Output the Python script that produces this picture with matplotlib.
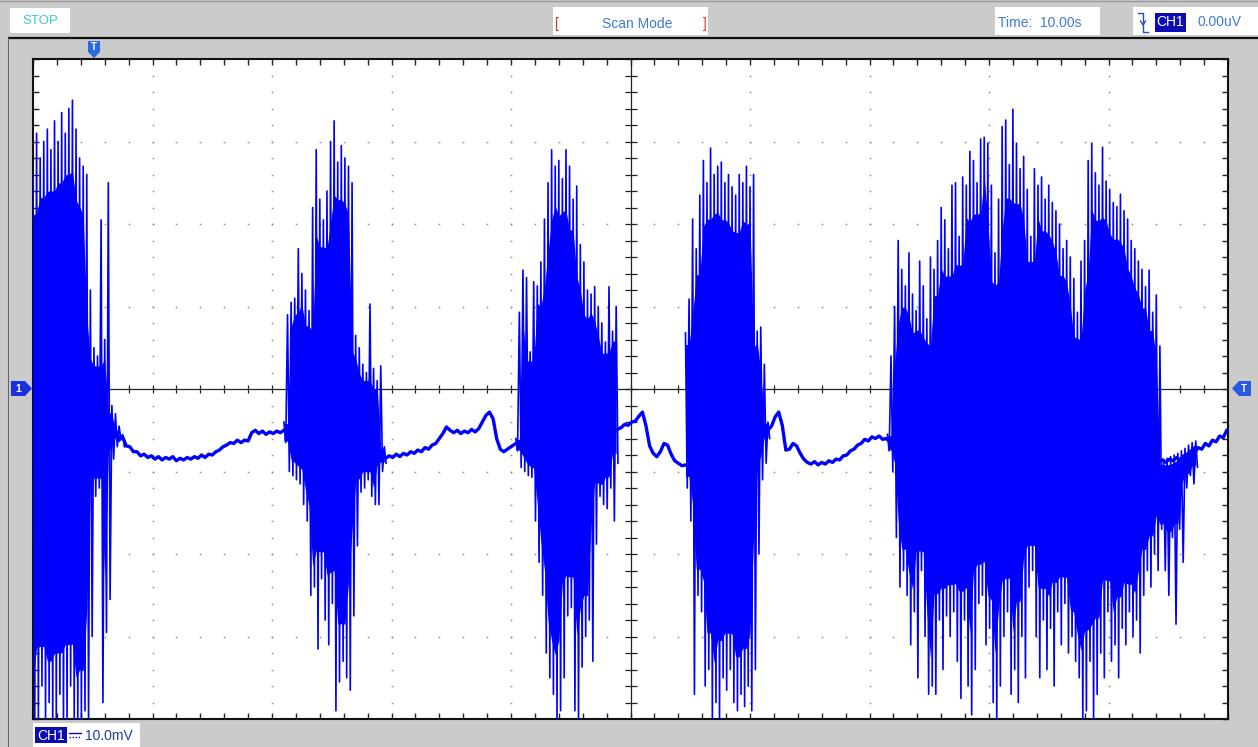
import numpy as np
import matplotlib
matplotlib.use("Agg")
import matplotlib.pyplot as plt
from matplotlib.patches import Rectangle, Polygon
from matplotlib.ticker import MultipleLocator

# ---------------- data (time in s, 1 s/div ; voltage in mV, 10 mV/div) -------------
DT = 0.03  # sample spacing of the read-off envelope values

burst1_t0 = 0.00
burst1_hi = [26, 31, 28, 30, 31.5, 29, 32.5, 30, 33.5, 31, 34, 35, 31.5, 28, 27, 26,
             12, 5, 4, 20.5, 6, 25, -2, -3, -4.5, -5.5]
burst1_lo = [-40, -40, -36, -40, -38, -40, -40, -37, -40, -40, -36, -40, -40, -40, -39, -40,
             -30, -13, -12, -38, -29.5, -25.5, -8.5, -7, -6, -7]

burst2_t0 = 2.10
burst2_hi = [-4, 9, 10.5, 11, 17, 14, 12, 9.5, 22, 29, 23, 20.5, 24, 30, 32.5, 27.5, 29.5,
             28, 27, 25, 6.5, 5, 3, 2, 10.3, 2.5, 1, 2.8, -7]
burst2_lo = [-6.5, -10, -10.5, -11, -11.5, -14, -16, -25, -24, -31.5, -23, -28, -31, -26,
             -39, -35.5, -33, -35, -36.5, -27.5, -19, -12.5, -12, -11, -13, -14, -14, -10, -9]

burst3_t0 = 4.04
burst3_hi = [-6, 9.3, 14.4, 13.5, 4.5, 13, 12.5, 15.4, 20.6, 25, 29, 27, 27.7, 25.5, 29, 27,
             23, 24.6, 17.5, 15.4, 12, 11.5, 12.4, 10, 8, 5.7, 12.4, 7, 10]
burst3_lo = [-7.5, -9.5, -10, -10.5, -10.7, -16, -21, -25, -32, -35, -37, -40, -39, -35,
             -27.5, -26.5, -39, -40, -33.7, -30, -28, -33, -18.8, -13, -14, -14.5, -12, -16, -9]

burst4_t0 = 5.46
burst4_hi = [6.8, 10.9, 20.6, 17, 23.5, 27.7, 25, 29.2, 26, 27, 27.5, 25, 26, 24.5, 23.5, 26,
             25, 27, 24.5, 26, 7, 7.5, 3, -4]
burst4_lo = [-12, -16, -37, -25, -27, -36, -34, -40, -38, -40, -35, -36.5, -34, -38, -39, -37,
             -38.5, -36, -39, -34, -20, -11, -9, -6]

burst5_t0 = 7.15
burst5_hi = [-5.5, 4, 10, 18, 14.5, 12.5, 16.5, 11.5, 9.5, 15.5, 12.5, 8.5, 16, 14.5, 18, 22,
             20.5, 17, 24.7, 25, 18.5, 25.7, 24.7, 28.8, 27.7, 25, 30.3, 30.5, 29.8, 24.7, 16.5,
             23, 31.8, 32.6, 27.2, 33.9, 29.8, 26.7, 28.2, 24.2, 18.5, 26.7, 24.7, 25.7, 23,
             24.7, 22.6, 21.6, 20, 17, 18, 16, 13.4, 9.3, 15.5, 18, 27.7, 29.8, 26.2, 24.7, 29.3,
             25.2, 24.2, 22.6, 22.1, 23.6, 21.6, 20.6, 18, 17, 15.5, 14.5, 12.4, 14.4, 9.3, 11.4,
             5.2, -8.5, -8.4, -8.2, -8.0, -7.8, -7.5, -7.2, -6.8, -6.5, -6.3]
burst5_lo = [-7.5, -10, -18, -24, -22, -25, -31, -27, -35, -22, -30, -37, -36, -37, -28, -34,
             -27.5, -30, -27, -33, -37.5, -28, -36, -39.5, -34, -26, -25, -31, -29, -38, -40,
             -36, -30, -27, -37, -34, -38, -30, -35, -24, -22, -30, -35, -28, -34, -29, -36,
             -27, -31, -26, -32, -30, -33, -35, -40, -39, -33, -40, -37, -32, -35, -27, -33,
             -31, -35, -29, -31, -27, -30, -28, -32, -25, -22, -24, -20, -22, -17, -22, -25,
             -18, -28.5, -17, -21, -12, -10.5, -11.5, -9.5]

base1_t0 = 0.72
base1_v = [-6.2, -5.8, -6.9, -7.0, -7.6, -7.6, -8.1, -7.9, -8.3, -8.1, -8.5, -8.2, -8.6, -8.3,
           -8.5, -8.2, -8.7, -8.4, -8.6, -8.3, -8.5, -8.2, -8.4, -8.0, -8.3, -7.9, -8.0, -7.6,
           -7.4, -7.0, -6.8, -6.5, -6.6, -6.2, -6.5, -6.2, -6.3, -5.3, -5.0, -5.4, -5.1, -5.5,
           -5.2, -5.4, -5.1, -5.3, -5.0, -4.8]
base2_t0 = 2.92
base2_v = [-8.0, -8.4, -8.1, -8.3, -7.9, -8.2, -7.8, -8.0, -7.6, -7.8, -7.4, -7.6, -7.1, -7.3,
           -6.8, -6.6, -6.0, -5.4, -4.6, -5.0, -5.3, -5.0, -5.4, -5.1, -5.3, -4.9, -5.2, -4.8,
           -4.0, -3.2, -2.8, -3.6, -6.0, -7.3, -7.6, -7.3, -7.0, -6.7, -6.5]
base3_t0 = 4.86
base3_v = [-5.3, -4.9, -4.7, -4.3, -4.4, -4.0, -3.9, -3.3, -2.8, -4.5, -6.9, -7.8, -8.2, -7.6,
           -6.6, -6.8, -7.9, -8.7, -9.0, -9.3, -9.2, -9.4]
base4_t0 = 6.12
base4_v = [-5.6, -5.0, -4.5, -3.4, -2.8, -4.4, -7.4, -7.3, -6.6, -6.9, -7.8, -8.5, -8.9, -9.1,
           -8.8, -9.2, -8.9, -9.1, -8.7, -8.9, -8.5, -8.6, -8.1, -8.0, -7.5, -7.3, -6.8, -6.6,
           -6.1, -6.3, -5.8, -6.0, -5.7, -6.1, -6.0, -6.4]
base5_t0 = 9.42
base5_v = [-8.8, -8.6, -8.9, -8.5, -8.7, -8.3, -8.6, -8.1, -8.2, -7.6, -7.8, -7.1, -7.3, -6.6,
           -6.9, -6.2, -6.4, -5.7, -5.9, -5.0, -4.8]

N_DIV_X, N_DIV_Y = 10, 8
VOLT_PER_DIV = 10.0
TIME_PER_DIV = 1.0

# ---------------- styling -------------
W, H = 1258, 747
PANEL = "#CBCBCB"
TRACE = "#0000FF"
UI_BLUE = "#3C7BD6"
NAVY = "#0C0CB4"
FONT = ["Liberation Sans", "DejaVu Sans"]
plt.rcParams["font.family"] = FONT

fig = plt.figure(figsize=(W / 100, H / 100), dpi=100, facecolor=PANEL)

# user-interface chrome in pixel coordinates
ui = fig.add_axes([0, 0, 1, 1], zorder=0)
ui.set_xlim(0, W)
ui.set_ylim(H, 0)
ui.axis("off")

ui.plot([8, W], [38, 38], color="#111111", lw=1.6, solid_capstyle="butt")
ui.plot([8, 8], [38, H], color="#666666", lw=0.8)
ui.plot([0, W], [0.5, 0.5], color="#9A9A9A", lw=1)

ui.add_patch(Rectangle((10, 8), 60, 25, fc="white", ec="none"))
ui.text(22, 21.5, "STOP", color="#38C8D8", fontsize=9.5, va="center", ha="left")

ui.add_patch(Rectangle((553, 7), 155, 28, fc="white", ec="none"))
ui.text(555, 24, "[", color="#E02828", fontsize=10, va="center", ha="left")
ui.text(707, 24, "]", color="#E02828", fontsize=10, va="center", ha="right")
ui.text(637, 24, "Scan Mode", color=UI_BLUE, fontsize=10, va="center", ha="center")

ui.add_patch(Rectangle((995, 7), 105, 28, fc="white", ec="none"))
ui.text(998, 23, "Time:  10.00s", color=UI_BLUE, fontsize=10, va="center", ha="left")

ui.add_patch(Rectangle((1133, 7), 125, 28, fc="white", ec="none"))
ui.plot([1138, 1143, 1143, 1148], [13, 13, 32, 32], color="#2050C8", lw=1)
ui.plot([1140.5, 1143, 1145.5], [21, 25, 21], color="#2050C8", lw=1)
ui.add_patch(Rectangle((1155, 13), 31, 19, fc=NAVY, ec="none"))
ui.text(1170.5, 22.5, "CH1", color="white", fontsize=10, va="center", ha="center")
ui.text(1197, 22.5, "0.00uV", color=UI_BLUE, fontsize=10, va="center", ha="left")

# bottom channel label
ui.add_patch(Rectangle((33, 723), 107, 24, fc="white", ec="none"))
ui.add_patch(Rectangle((35, 727), 32, 16, fc=NAVY, ec="none"))
ui.text(51, 735.5, "CH1", color="white", fontsize=10, va="center", ha="center")
ui.plot([69, 81], [733, 733], color=NAVY, lw=1)
ui.plot([69, 81], [737, 737], color=NAVY, lw=1, ls=(0, (1, 1.2)))
ui.text(85, 735.5, "10.0mV", color="#1E3C9C", fontsize=10, va="center", ha="left")

# trigger / channel markers
ui.add_patch(Polygon([(88, 41), (100, 41), (100, 52), (94, 58), (88, 52)], closed=True,
                     fc="#2A6AE0", ec="none"))
ui.text(94, 47.5, "T", color="white", fontsize=7, fontweight="bold", ha="center", va="center")
ui.add_patch(Polygon([(11, 381), (25, 381), (32, 388.5), (25, 396), (11, 396)], closed=True,
                     fc="#1A30DC", ec="none"))
ui.text(18, 389, "1", color="white", fontsize=7.5, fontweight="bold", ha="center", va="center")
ui.add_patch(Polygon([(1251, 381), (1239, 381), (1232, 388.5), (1239, 396), (1251, 396)],
                     closed=True, fc="#2A5AE0", ec="none"))
ui.text(1244, 388.5, "T", color="white", fontsize=7, fontweight="bold", ha="center", va="center")

# ---------------- oscilloscope screen -------------
ax = fig.add_axes([33 / W, (H - 719) / H, (1228 - 33) / W, (719 - 59) / H], zorder=2)
xmax = N_DIV_X * TIME_PER_DIV
ymax = N_DIV_Y / 2 * VOLT_PER_DIV
ax.set_xlim(0, xmax)
ax.set_ylim(-ymax, ymax)
ax.set_facecolor("white")
for s in ax.spines.values():
    s.set_color("#111111")
    s.set_linewidth(1.5)

ax.xaxis.set_major_locator(MultipleLocator(TIME_PER_DIV))
ax.xaxis.set_minor_locator(MultipleLocator(TIME_PER_DIV / 5))
ax.yaxis.set_major_locator(MultipleLocator(VOLT_PER_DIV))
ax.yaxis.set_minor_locator(MultipleLocator(VOLT_PER_DIV / 5))
ax.tick_params(which="both", direction="in", length=4, width=1, color="#222222",
               top=True, right=True, labelbottom=False, labelleft=False)

# dotted division grid
xs_minor = np.arange(0, xmax + 1e-9, TIME_PER_DIV / 5)
ys_minor = np.arange(-ymax, ymax + 1e-9, VOLT_PER_DIV / 5)
for k in range(1, N_DIV_X):
    if k == N_DIV_X // 2:
        continue
    ax.plot(np.full_like(ys_minor, k * TIME_PER_DIV), ys_minor, ls="none", marker="s",
            ms=1.1, mew=0, color="#8C8C8C", zorder=1)
for k in range(-N_DIV_Y // 2 + 1, N_DIV_Y // 2):
    if k == 0:
        continue
    ax.plot(xs_minor, np.full_like(xs_minor, k * VOLT_PER_DIV), ls="none", marker="s",
            ms=1.1, mew=0, color="#8C8C8C", zorder=1)

# centre cross with its own tick marks
ax.axhline(0, color="#222222", lw=0.9, zorder=1.5)
ax.axvline(xmax / 2, color="#222222", lw=0.9, zorder=1.5)
ax.plot(xs_minor, np.zeros_like(xs_minor), ls="none", marker="|", ms=6, mew=0.9,
        color="#222222", zorder=1.5)
ax.plot(np.full_like(ys_minor, xmax / 2), ys_minor, ls="none", marker="_", ms=8, mew=0.9,
        color="#222222", zorder=1.5)

# baseline segments
for t0, vals in [(base1_t0, base1_v), (base2_t0, base2_v), (base3_t0, base3_v),
                 (base4_t0, base4_v), (base5_t0, base5_v)]:
    v = np.asarray(vals, float)
    t = t0 + DT * np.arange(len(v))
    ax.plot(t, v, color=TRACE, lw=2.4, solid_joinstyle="round", zorder=3)


def neighbour_min(a):
    p = np.concatenate([[a[0]], a, [a[-1]]])
    return np.minimum(np.minimum(p[:-2], p[1:-1]), p[2:])


CORE = 0.85  # fraction of the neighbouring extremes drawn as solid trace core

# bursts: solid core between neighbouring extremes + alternating max/min strokes
for t0, hi, lo in [(burst1_t0, burst1_hi, burst1_lo), (burst2_t0, burst2_hi, burst2_lo),
                   (burst3_t0, burst3_hi, burst3_lo), (burst4_t0, burst4_hi, burst4_lo),
                   (burst5_t0, burst5_hi, burst5_lo)]:
    hi = np.asarray(hi, float)
    lo = np.asarray(lo, float)
    n = len(hi)
    ts = t0 + DT * np.arange(n)
    core_hi = neighbour_min(hi)
    core_lo = -neighbour_min(-lo)
    mid = (core_hi + core_lo) / 2
    half = np.maximum(core_hi - core_lo, 0) / 2 * CORE
    ax.fill_between(ts, mid - half, mid + half, color=TRACE, lw=0, zorder=3)
    tt = np.empty(2 * n)
    yy = np.empty(2 * n)
    tt[0::2] = ts
    tt[1::2] = ts + DT / 2
    yy[0::2] = hi
    yy[1::2] = lo
    ax.plot(tt, yy, color=TRACE, lw=1.2, solid_joinstyle="round", zorder=3)

fig.savefig("out.png", dpi=100, facecolor=PANEL)
